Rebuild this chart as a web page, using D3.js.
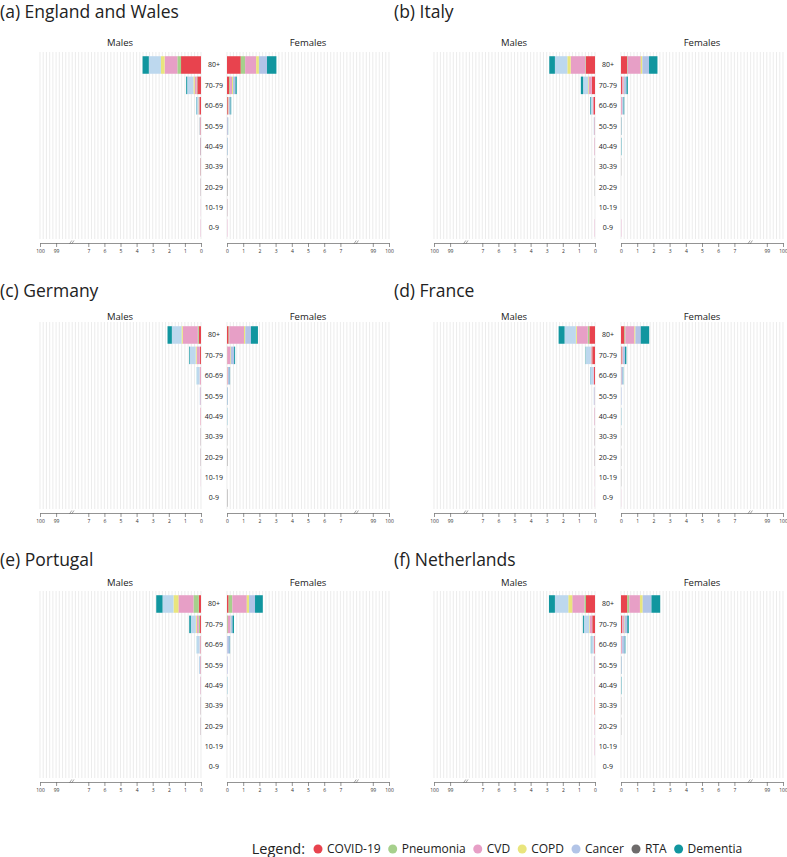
<!DOCTYPE html>
<html>
<head>
<meta charset="utf-8">
<script src="https://cdn.jsdelivr.net/npm/d3@7"></script>
<style>
body { margin: 0; background: #fff; }
svg { display: block; font-family: "Open Sans", sans-serif; }
</style>
</head>
<body>
<div id="container"></div>
<script>
// causes, in stacking order from the centre outwards
var causes = ['COVID-19', 'Pneumonia', 'CVD', 'COPD', 'Cancer', 'RTA', 'Dementia'];
var ages = ['80+', '70-79', '60-69', '50-59', '40-49', '30-39', '20-29', '10-19', '0-9'];
var tickValues = [0, 1, 2, 3, 4, 5, 6, 7, 9, 10];
var tickLabels = ['0', '1', '2', '3', '4', '5', '6', '7', '99', '100'];
var countries = ['(a) England and Wales', '(b) Italy', '(c) Germany', '(d) France', '(e) Portugal', '(f) Netherlands'];

// rows follow ages, columns follow causes
var ewMales = [
    [1.24, 0.23, 0.79, 0.23, 0.75, 0, 0.39],
    [0.23, 0.04, 0.12, 0.08, 0.39, 0, 0.06],
    [0.10, 0.01, 0.04, 0.02, 0.12, 0, 0.02],
    [0.03, 0, 0.02, 0, 0.03, 0.01, 0],
    [0.01, 0, 0.02, 0, 0.01, 0.01, 0],
    [0.01, 0, 0.01, 0, 0, 0.01, 0],
    [0, 0, 0.01, 0, 0, 0.01, 0],
    [0, 0, 0.01, 0, 0, 0, 0],
    [0, 0, 0.02, 0, 0, 0, 0]
];
var ewFemales = [
    [0.85, 0.27, 0.68, 0.17, 0.50, 0, 0.58],
    [0.15, 0.04, 0.12, 0.06, 0.15, 0, 0.08],
    [0.05, 0.01, 0.04, 0.02, 0.10, 0, 0.04],
    [0.01, 0, 0.01, 0, 0.04, 0, 0.01],
    [0, 0, 0.01, 0, 0.02, 0, 0.01],
    [0, 0, 0, 0, 0.01, 0.02, 0],
    [0, 0, 0, 0, 0, 0.02, 0],
    [0, 0, 0.01, 0, 0, 0.01, 0],
    [0, 0, 0.02, 0, 0, 0, 0]
];
var itMales = [
    [0.56, 0.04, 0.91, 0.21, 0.77, 0, 0.35],
    [0.19, 0.01, 0.19, 0.04, 0.31, 0, 0.14],
    [0.10, 0, 0.04, 0.01, 0.12, 0, 0.04],
    [0.02, 0, 0.02, 0, 0.04, 0, 0],
    [0.01, 0, 0.02, 0, 0.01, 0, 0],
    [0, 0, 0.01, 0, 0, 0.01, 0],
    [0, 0, 0, 0, 0, 0.01, 0],
    [0, 0, 0, 0, 0, 0, 0],
    [0, 0, 0.02, 0, 0, 0, 0]
];
var itFemales = [
    [0.37, 0.04, 0.81, 0.10, 0.41, 0, 0.52],
    [0.06, 0.01, 0.10, 0.02, 0.15, 0, 0.08],
    [0.02, 0, 0.05, 0.01, 0.08, 0, 0.04],
    [0, 0.01, 0.01, 0, 0.02, 0, 0.01],
    [0, 0, 0, 0, 0.01, 0, 0.02],
    [0, 0, 0, 0, 0, 0.01, 0],
    [0, 0, 0, 0, 0, 0, 0],
    [0, 0, 0, 0, 0, 0, 0],
    [0, 0, 0.02, 0, 0, 0, 0]
];
var deMales = [
    [0.14, 0.06, 0.93, 0.08, 0.60, 0, 0.27],
    [0.06, 0.01, 0.20, 0.06, 0.37, 0, 0.04],
    [0.02, 0, 0.06, 0.01, 0.16, 0, 0.01],
    [0.01, 0, 0.03, 0, 0.04, 0, 0],
    [0.01, 0, 0.02, 0, 0, 0, 0],
    [0, 0, 0.01, 0, 0, 0.01, 0],
    [0, 0, 0.01, 0, 0, 0.01, 0],
    [0, 0, 0.01, 0, 0, 0, 0],
    [0, 0, 0, 0, 0, 0, 0]
];
var deFemales = [
    [0.10, 0.04, 0.91, 0.08, 0.35, 0, 0.43],
    [0.02, 0.01, 0.18, 0.03, 0.20, 0, 0.06],
    [0.01, 0, 0.04, 0.01, 0.11, 0, 0.02],
    [0, 0, 0.01, 0, 0.03, 0, 0.01],
    [0, 0, 0, 0, 0.01, 0, 0.01],
    [0, 0, 0, 0, 0, 0.01, 0],
    [0, 0, 0, 0, 0, 0.02, 0],
    [0, 0, 0, 0, 0, 0, 0],
    [0, 0, 0, 0, 0, 0.02, 0]
];
var frMales = [
    [0.35, 0.10, 0.68, 0.06, 0.70, 0, 0.37],
    [0.17, 0.01, 0.06, 0.02, 0.30, 0, 0.02],
    [0.06, 0, 0.04, 0, 0.20, 0, 0.01],
    [0.01, 0, 0.02, 0, 0.05, 0, 0],
    [0.01, 0, 0.02, 0, 0.01, 0, 0],
    [0, 0, 0.01, 0, 0, 0.01, 0],
    [0, 0, 0.01, 0, 0, 0.01, 0],
    [0, 0, 0.01, 0, 0, 0, 0],
    [0, 0, 0.01, 0, 0, 0, 0]
];
var frFemales = [
    [0.21, 0.06, 0.56, 0.06, 0.33, 0, 0.52],
    [0.04, 0.01, 0.06, 0.01, 0.13, 0, 0.08],
    [0.01, 0.01, 0.02, 0, 0.08, 0, 0.02],
    [0, 0, 0, 0, 0.03, 0, 0],
    [0, 0, 0, 0, 0.01, 0, 0.01],
    [0, 0, 0, 0, 0, 0.01, 0],
    [0, 0, 0, 0, 0, 0.01, 0],
    [0, 0, 0, 0, 0, 0.01, 0],
    [0, 0, 0.01, 0, 0, 0, 0]
];
var ptMales = [
    [0.14, 0.33, 0.93, 0.31, 0.68, 0, 0.39],
    [0.06, 0.08, 0.12, 0.06, 0.31, 0, 0.10],
    [0.02, 0.01, 0.05, 0.01, 0.16, 0, 0.01],
    [0.02, 0, 0.03, 0, 0.07, 0, 0],
    [0.01, 0, 0.02, 0, 0.01, 0, 0],
    [0, 0, 0.01, 0, 0, 0.01, 0],
    [0, 0, 0.01, 0, 0, 0.01, 0],
    [0, 0, 0, 0, 0, 0, 0],
    [0, 0, 0, 0, 0, 0, 0]
];
var ptFemales = [
    [0.10, 0.23, 0.89, 0.14, 0.37, 0, 0.48],
    [0.02, 0.04, 0.14, 0.02, 0.12, 0, 0.09],
    [0, 0, 0.02, 0, 0.15, 0, 0.02],
    [0, 0, 0.01, 0, 0.03, 0, 0],
    [0, 0, 0, 0, 0.01, 0, 0.01],
    [0, 0, 0, 0, 0, 0.01, 0],
    [0, 0, 0, 0, 0, 0.01, 0],
    [0, 0, 0, 0, 0, 0, 0],
    [0, 0, 0, 0, 0, 0, 0]
];
var nlMales = [
    [0.56, 0.10, 0.75, 0.25, 0.83, 0, 0.37],
    [0.17, 0.01, 0.14, 0.04, 0.33, 0, 0.06],
    [0.04, 0, 0.04, 0.01, 0.15, 0, 0.02],
    [0.02, 0, 0.02, 0, 0.04, 0, 0],
    [0.01, 0, 0.02, 0, 0.01, 0, 0],
    [0.02, 0, 0, 0, 0, 0, 0],
    [0, 0, 0.02, 0, 0, 0, 0],
    [0, 0, 0.02, 0, 0, 0, 0],
    [0, 0, 0, 0, 0, 0, 0]
];
var nlFemales = [
    [0.39, 0.12, 0.66, 0.17, 0.54, 0, 0.54],
    [0.06, 0.02, 0.10, 0.04, 0.17, 0, 0.09],
    [0.02, 0, 0.04, 0.01, 0.16, 0, 0.04],
    [0, 0, 0.01, 0, 0.02, 0, 0.01],
    [0, 0, 0, 0, 0.01, 0, 0.02],
    [0, 0, 0, 0, 0, 0.01, 0],
    [0, 0, 0, 0, 0, 0.01, 0],
    [0, 0, 0, 0, 0, 0, 0],
    [0, 0, 0, 0, 0, 0, 0]
];
var malesData = [ewMales, itMales, deMales, frMales, ptMales, nlMales];
var femalesData = [ewFemales, itFemales, deFemales, frFemales, ptFemales, nlFemales];

var colors = {
    'COVID-19': '#e8434e',
    'Pneumonia': '#a6d08c',
    'CVD': '#e79fc6',
    'COPD': '#e9e57d',
    'Cancer': '#b2c4e7',
    'RTA': '#6e6b6b',
    'Dementia': '#11969f'
};
// male bars show the cancer segment in a lighter blue
var maleColors = Object.assign({}, colors, { 'Cancer': '#bdd8ee' });

var width = 787, height = 857;
var colX = [0, 394];
var rowY = [0, 270, 539];
var titleY = [12, 291, 560];
var sexY = [43, 317, 583];

var svg = d3.select('#container').append('svg')
    .attr('width', width)
    .attr('height', height);

var xMale = d3.scaleLinear().domain([0, 10]).range([201, 40]);
var xFemale = d3.scaleLinear().domain([0, 10]).range([227, 389]);
var y = d3.scaleBand().domain(ages).range([54.8, 238.2]).paddingInner(0.14).paddingOuter(0.07);
var axisY = 243;

var stack = d3.stack().keys(causes);

function toRows(values) {
    return values.map(function (row, i) {
        var obj = { age: ages[i] };
        causes.forEach(function (c, j) { obj[c] = row[j]; });
        return obj;
    });
}

function drawSide(g, x, values, palette) {
    // background grid
    g.append('g').selectAll('line')
        .data(d3.range(0, 51).map(function (i) { return i * 0.2; }))
        .enter().append('line')
        .attr('x1', function (d) { return x(d); })
        .attr('x2', function (d) { return x(d); })
        .attr('y1', 52)
        .attr('y2', 239)
        .attr('stroke', '#e4e4e4')
        .attr('stroke-width', 0.7);

    var series = stack(toRows(values));
    g.append('g').selectAll('g')
        .data(series)
        .enter().append('g')
        .attr('fill', function (s) { return palette[s.key]; })
        .selectAll('rect')
        .data(function (s) { return s; })
        .enter().append('rect')
        .attr('x', function (d) { return Math.min(x(d[0]), x(d[1])); })
        .attr('width', function (d) { return Math.abs(x(d[1]) - x(d[0])); })
        .attr('y', function (d) { return y(d.data.age); })
        .attr('height', y.bandwidth());

    var axis = d3.axisBottom(x)
        .tickValues(tickValues)
        .tickFormat(function (d, i) { return tickLabels[i]; })
        .tickSize(4)
        .tickSizeOuter(0);
    var ag = g.append('g')
        .attr('transform', 'translate(0,' + axisY + ')')
        .call(axis);
    ag.select('.domain').attr('stroke', '#666').attr('stroke-width', 0.7);
    ag.selectAll('.tick line').attr('stroke', '#666').attr('stroke-width', 0.7);
    ag.selectAll('.tick text')
        .attr('y', 6)
        .attr('font-size', 5)
        .attr('font-family', '"Open Sans", sans-serif')
        .attr('fill', '#333');

    // axis break mark
    var bx = x(8);
    [-1.6, 0.6].forEach(function (off) {
        ag.append('line')
            .attr('x1', bx + off - 1.2).attr('y1', 1)
            .attr('x2', bx + off + 1.2).attr('y2', -2.5)
            .attr('stroke', '#666')
            .attr('stroke-width', 0.6);
    });
}

countries.forEach(function (name, k) {
    var col = k % 2, row = Math.floor(k / 2);
    var g = svg.append('g')
        .attr('transform', 'translate(' + colX[col] + ',' + rowY[row] + ')');

    svg.append('text')
        .attr('x', colX[col])
        .attr('y', titleY[row])
        .attr('dy', '0.35em')
        .attr('font-size', 17.5)
        .attr('fill', '#222')
        .text(name);

    [['Males', 120], ['Females', 308]].forEach(function (s) {
        svg.append('text')
            .attr('x', colX[col] + s[1])
            .attr('y', sexY[row])
            .attr('dy', '0.35em')
            .attr('text-anchor', 'middle')
            .attr('font-size', 9.5)
            .attr('fill', '#222')
            .text(s[0]);
    });

    drawSide(g.append('g'), xMale, malesData[k], maleColors);
    drawSide(g.append('g'), xFemale, femalesData[k], colors);

    g.append('g').selectAll('text')
        .data(ages)
        .enter().append('text')
        .attr('x', 214)
        .attr('y', function (d) { return y(d) + y.bandwidth() / 2; })
        .attr('dy', '0.35em')
        .attr('text-anchor', 'middle')
        .attr('font-size', 7)
        .attr('fill', '#222')
        .text(function (d) { return d; });
});

// legend
var legend = svg.append('g').attr('transform', 'translate(0,849)');
legend.append('text')
    .attr('x', 305)
    .attr('dy', '0.35em')
    .attr('text-anchor', 'end')
    .attr('font-size', 14.5)
    .attr('fill', '#222')
    .text('Legend:');
var lx = 318;
causes.forEach(function (c) {
    legend.append('circle')
        .attr('cx', lx)
        .attr('cy', 0)
        .attr('r', 4.5)
        .attr('fill', colors[c]);
    var t = legend.append('text')
        .attr('x', lx + 9)
        .attr('dy', '0.35em')
        .attr('font-size', 12)
        .attr('fill', '#222')
        .text(c);
    lx += 9 + t.node().getComputedTextLength() + 12;
});
</script>
</body>
</html>
